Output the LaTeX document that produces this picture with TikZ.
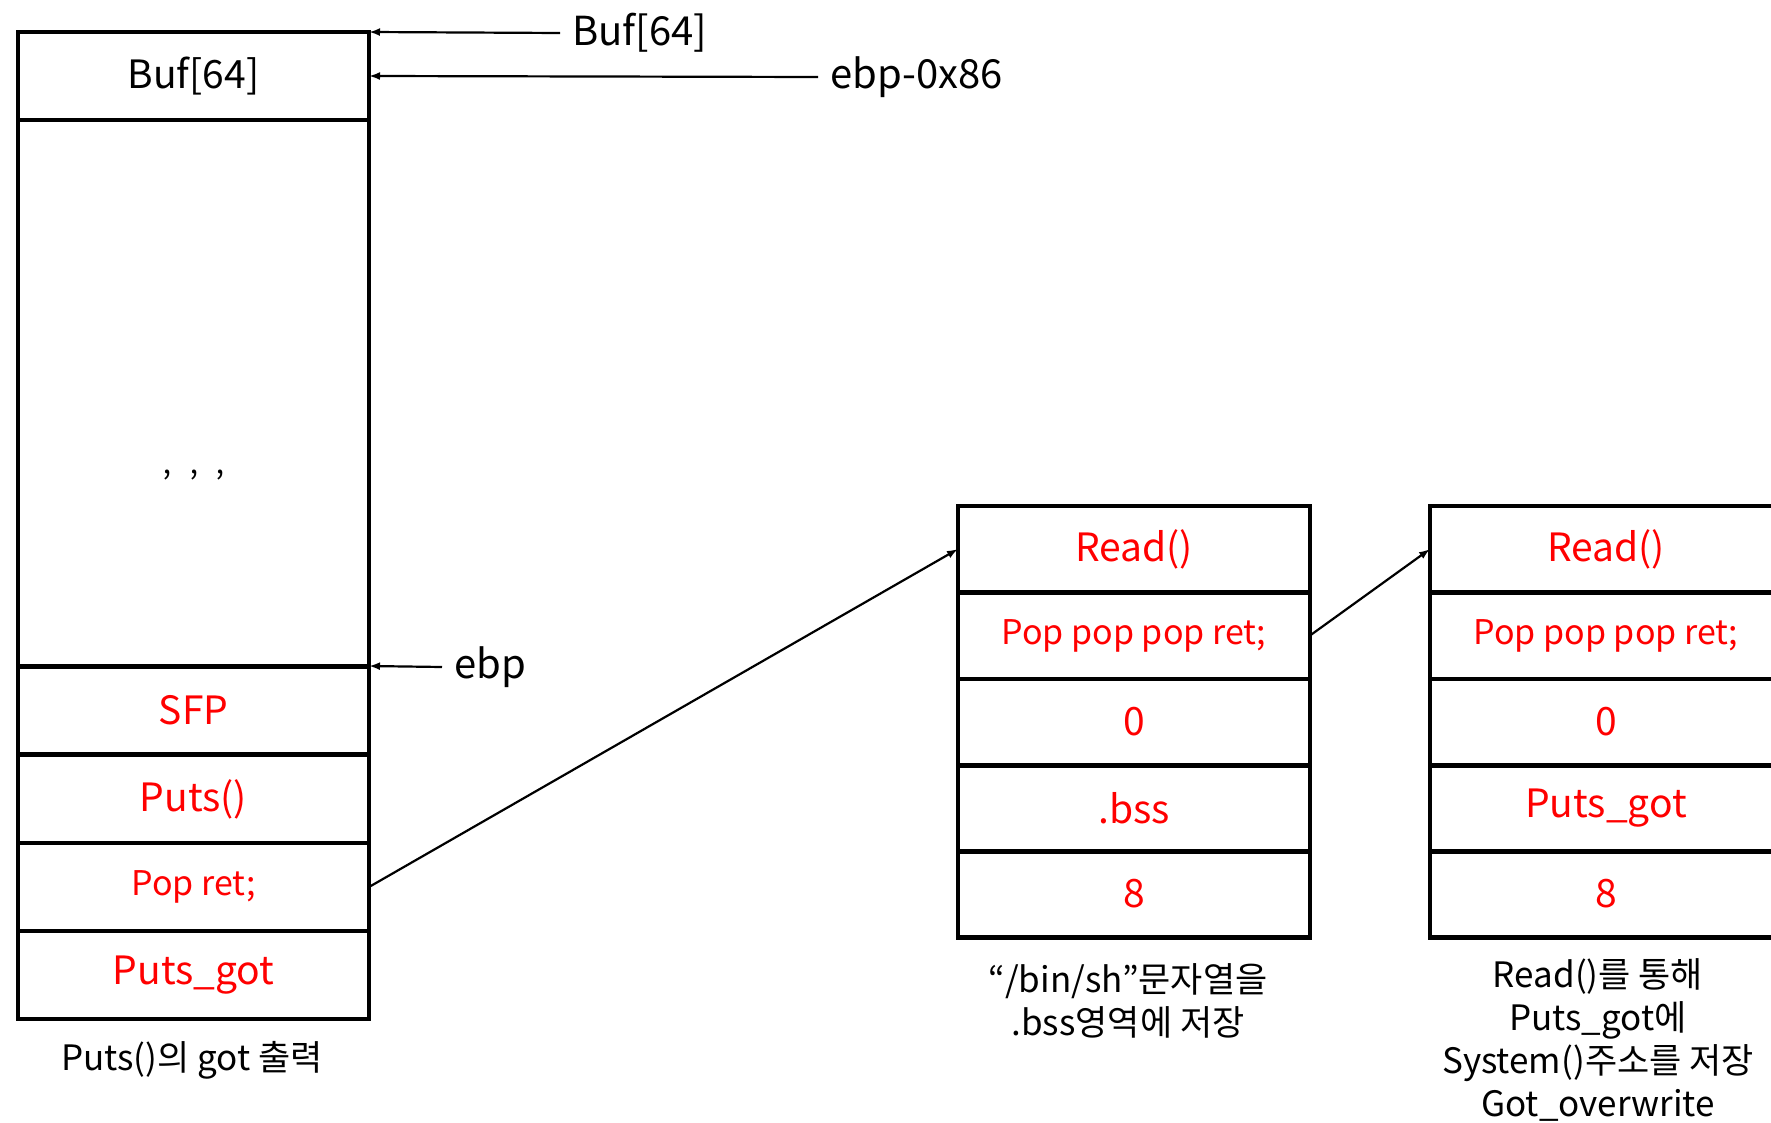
\documentclass[tikz,border=0pt]{standalone}
\usepackage{fontspec}
\setmainfont{Noto Sans CJK KR}
\usetikzlibrary{arrows.meta}
\begin{document}
\begin{tikzpicture}[x=1pt,y=-1pt,
  cell/.style={draw, line width=4.5pt, inner sep=0pt, outer sep=0pt, text=red,
    font=\fontsize{39}{44}\selectfont},
  lcell/.style={cell, minimum width=351pt, minimum height=88pt},
  mcell/.style={cell, minimum width=352pt, minimum height=86.5pt},
  small/.style={font=\fontsize{34}{38}\selectfont},
  lab/.style={font=\fontsize{40}{44}\selectfont, inner sep=12pt},
  captext/.style={font=\fontsize{35}{43}\selectfont, align=center, inner sep=0pt},
  ptr/.style={line width=2.2pt, -{Latex[length=11pt,width=8pt]}},
]
\useasboundingbox (0,0) rectangle (1771,1123);
\clip (0,0) rectangle (1771,1123);
\fill[white] (0,0) rectangle (1771,1123);

% left stack
\node[lcell, text=black] (L1) at (193.5,76) {Buf[64]};
\node[lcell, minimum height=546pt] (L2) at (193.5,393) {};
\node[lcell] (L3) at (193.5,710.5) {SFP};
\node[lcell] (L4) at (193.5,799) {Puts()};
\node[lcell, small] (L5) at (193.5,887) {Pop ret;};
\node[lcell] (L6) at (193.5,975) {Puts\_got};
\node[font=\fontsize{34}{38}\selectfont] (dots) at (194,483) {’\hspace{17pt}’\hspace{17pt}’};

% middle stack
\node[mcell] (M1) at (1134,549) {Read()};
\node[mcell, small] (M2) at (1134,635.5) {Pop pop pop ret;};
\node[mcell] (M3) at (1134,722) {0};
\node[mcell] (M4) at (1134,808) {.bss};
\node[mcell] (M5) at (1134,894) {8};

% right stack
\node[mcell] (R1) at (1606,549) {Read()};
\node[mcell, small] (R2) at (1606,635.5) {Pop pop pop ret;};
\node[mcell] (R3) at (1606,722) {0};
\node[mcell] (R4) at (1606,808) {Puts\_got};
\node[mcell] (R5) at (1606,894) {8};

% pointer labels
\node[lab, anchor=west] (tb) at (560,33) {Buf[64]};
\node[lab, anchor=west] (te) at (818,77) {ebp-0x86};
\node[lab, anchor=west] (tp) at (442,667) {ebp};
\draw[ptr] (tb.west) -- (L1.north east);
\draw[ptr] (te.west) -- (L1.east);
\draw[ptr] (tp.west) -- (L2.south east);

% connectors
\draw[ptr] (L5.east) -- (M1.west);
\draw[ptr] (M2.east) -- (R1.west);

% captions
\node[captext] (c1) at (192,1060) {Puts()의 got 출력};
\node[captext] (c2) at (1128,1001) {“/bin/sh”문자열을\\.bss영역에 저장};
\node[captext] (c3) at (1598,1040) {Read()를 통해\\Puts\_got에\\System()주소를 저장\\Got\_overwrite};
\end{tikzpicture}
\end{document}
